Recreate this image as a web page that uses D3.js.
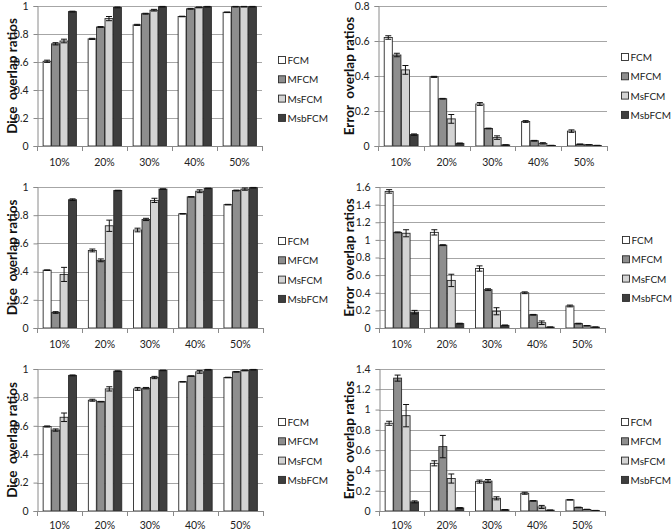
<!DOCTYPE html>
<html><head><meta charset="utf-8">
<script src="https://cdn.jsdelivr.net/npm/d3@7/dist/d3.min.js"></script>
<style>body{margin:0;background:#fff}svg{display:block}text{font-family:Lato,"Open Sans",sans-serif}</style>
</head><body>
<script>
const categories = ["10%","20%","30%","40%","50%"];
const methods = ["FCM","MFCM","MsFCM","MsbFCM"];
const colors = ["#ffffff","#8e8e8e","#d3d3d3","#3e3e3e"];

// Panel 1: Dice (top)
const dice1 = [[0.605,0.73,0.75,0.96],[0.765,0.85,0.91,0.99],[0.865,0.945,0.97,0.995],[0.925,0.98,0.99,0.995],[0.955,0.995,0.995,0.995]];
const dice1Err = [[0.008,0.008,0.013,0.003],[0.004,0.003,0.015,0.003],[0.004,0.003,0.006,0.002],[0.002,0.003,0.003,0.002],[0.002,0.002,0.002,0.002]];
// Panel 2: Error (top)
const err1 = [[0.62,0.52,0.435,0.065],[0.395,0.27,0.155,0.015],[0.24,0.10,0.048,0.006],[0.14,0.03,0.015,0.003],[0.085,0.01,0.007,0.003]];
const err1Err = [[0.01,0.01,0.025,0.004],[0.003,0.002,0.025,0.002],[0.008,0.002,0.01,0.001],[0.005,0.002,0.004,0.001],[0.007,0.001,0.001,0.001]];
// Panel 3: Dice (middle)
const dice2 = [[0.41,0.11,0.38,0.91],[0.55,0.48,0.725,0.975],[0.695,0.77,0.905,0.985],[0.81,0.93,0.97,0.99],[0.875,0.975,0.985,0.995]];
const dice2Err = [[0.002,0.006,0.05,0.006],[0.01,0.01,0.04,0.002],[0.013,0.008,0.015,0.002],[0.002,0.002,0.01,0.002],[0.002,0.003,0.008,0.002]];
// Panel 4: Error (middle)
const err2 = [[1.55,1.085,1.075,0.18],[1.085,0.94,0.54,0.05],[0.675,0.435,0.19,0.03],[0.40,0.15,0.06,0.01],[0.25,0.05,0.025,0.01]];
const err2Err = [[0.02,0.005,0.04,0.02],[0.03,0.005,0.07,0.004],[0.03,0.01,0.04,0.004],[0.01,0.004,0.02,0.002],[0.01,0.004,0.003,0.002]];
// Panel 5: Dice (bottom)
const dice3 = [[0.595,0.57,0.66,0.955],[0.78,0.77,0.86,0.985],[0.86,0.865,0.94,0.99],[0.91,0.95,0.98,0.995],[0.94,0.98,0.99,0.995]];
const dice3Err = [[0.004,0.008,0.03,0.003],[0.007,0.002,0.015,0.002],[0.01,0.005,0.008,0.002],[0.002,0.002,0.01,0.002],[0.002,0.002,0.003,0.002]];
// Panel 6: Error (bottom)
const err3 = [[0.865,1.31,0.94,0.09],[0.47,0.635,0.32,0.03],[0.29,0.295,0.125,0.012],[0.175,0.10,0.04,0.008],[0.11,0.035,0.015,0.005]];
const err3Err = [[0.02,0.03,0.11,0.01],[0.025,0.11,0.045,0.004],[0.015,0.015,0.015,0.002],[0.01,0.003,0.015,0.002],[0.002,0.003,0.002,0.001]];

const yLabels = ["Dice  overlap ratios","Error  overlap ratios"];

const panels = [
  {data:dice1, err:dice1Err, label:yLabels[0], x0:37, x1:262, yT:6, yB:146, max:1, lx:278, ly:60, labx:12, xo:20},
  {data:err1, err:err1Err, label:yLabels[1], x0:378, x1:607, yT:6, yB:146, max:0.8, lx:621, ly:57, labx:349, xo:20},
  {data:dice2, err:dice2Err, label:yLabels[0], x0:37, x1:263, yT:187, yB:328, max:1, lx:278, ly:241, labx:12, xo:20},
  {data:err2, err:err2Err, label:yLabels[1], x0:379, x1:605, yT:187, yB:328, max:1.6, lx:622, ly:240, labx:349, xo:20},
  {data:dice3, err:dice3Err, label:yLabels[0], x0:37, x1:263, yT:369, yB:511, max:1, lx:278, ly:422, labx:12, xo:18},
  {data:err3, err:err3Err, label:yLabels[1], x0:379, x1:605, yT:369, yB:511, max:1.4, lx:621, ly:422, labx:349, xo:18}
];

const fmt = d3.format(".1~f");
const svg = d3.select("body").append("svg").attr("width",672).attr("height",531);

panels.forEach(p => {
  const g = svg.append("g");
  const x = d3.scaleBand().domain(categories).range([p.x0,p.x1]).paddingInner(0.25).paddingOuter(0.125);
  const xs = d3.scaleBand().domain(methods).range([0,x.bandwidth()]);
  const y = d3.scaleLinear().domain([0,p.max]).range([p.yB,p.yT]);
  const ticks = d3.range(0, p.max + 1e-9, 0.2).map(v => +v.toFixed(1));

  g.selectAll(".grid").data(ticks.filter(t=>t>0)).join("line")
    .attr("x1",p.x0).attr("x2",p.x1).attr("y1",d=>Math.round(y(d))+0.5).attr("y2",d=>Math.round(y(d))+0.5)
    .attr("stroke","#a6a6a6").attr("stroke-width",1);

  const ya = d3.axisLeft(y).tickValues(ticks).tickFormat(d => d===0?"0":fmt(d)).tickSize(4).tickPadding(5);
  const yg = g.append("g").attr("transform",`translate(${p.x0+0.5},0)`).call(ya);
  yg.select(".domain").attr("stroke","#8a8a8a");
  yg.selectAll(".tick line").attr("stroke","#8a8a8a");
  yg.selectAll("text").attr("font-size",10.5).attr("fill","#222");

  p.data.forEach((row,ci) => {
    const gx = x(categories[ci]);
    row.forEach((v,mi) => {
      const bx = gx + xs(methods[mi]);
      g.append("rect").attr("x",bx+0.5).attr("y",y(v)).attr("width",xs.bandwidth()-0.5).attr("height",y(0)-y(v))
        .attr("fill",colors[mi]).attr("stroke","#2a2a2a").attr("stroke-width",0.9);
      const e = p.err[ci][mi];
      const cx = bx + xs.bandwidth()/2 + 0.25;
      const ya1 = y(v+e), ya2 = y(v-e);
      const eg = g.append("g").attr("stroke","#111").attr("stroke-width",1);
      eg.append("line").attr("x1",cx).attr("x2",cx).attr("y1",ya1).attr("y2",ya2);
      eg.append("line").attr("x1",cx-3).attr("x2",cx+3).attr("y1",ya1).attr("y2",ya1);
      eg.append("line").attr("x1",cx-3).attr("x2",cx+3).attr("y1",ya2).attr("y2",ya2);
    });
  });

  const bounds = d3.range(6).map(i => p.x0 + (p.x1-p.x0)*i/5);
  g.append("line").attr("x1",p.x0).attr("x2",p.x1).attr("y1",Math.round(p.yB)+0.5).attr("y2",Math.round(p.yB)+0.5).attr("stroke","#8a8a8a");
  g.selectAll(".xt").data(bounds).join("line")
    .attr("x1",d=>Math.round(d)+0.5).attr("x2",d=>Math.round(d)+0.5).attr("y1",p.yB).attr("y2",p.yB+5).attr("stroke","#8a8a8a");
  g.selectAll(".xl").data(categories).join("text")
    .attr("x",d=>x(d)+x.bandwidth()/2).attr("y",p.yB+p.xo).attr("text-anchor","middle")
    .attr("font-size",10.5).attr("fill","#222").text(d=>d);

  g.append("text").attr("transform",`translate(${p.labx+4.5},${(p.yT+p.yB)/2}) rotate(-90)`)
    .attr("text-anchor","middle").attr("font-size",13.5).attr("font-weight","bold").attr("fill","#111")
    .style("white-space","pre").text(p.label);

  methods.forEach((m,i) => {
    const ly = p.ly + i*19.3;
    g.append("rect").attr("x",p.lx+0.5).attr("y",ly-3.5).attr("width",7).attr("height",7)
      .attr("fill",colors[i]).attr("stroke","#2a2a2a").attr("stroke-width",0.9);
    g.append("text").attr("x",p.lx+9.5).attr("y",ly+4).attr("font-size",10).attr("font-weight","normal").attr("fill","#222").text(m);
  });
});
</script>
</body></html>
